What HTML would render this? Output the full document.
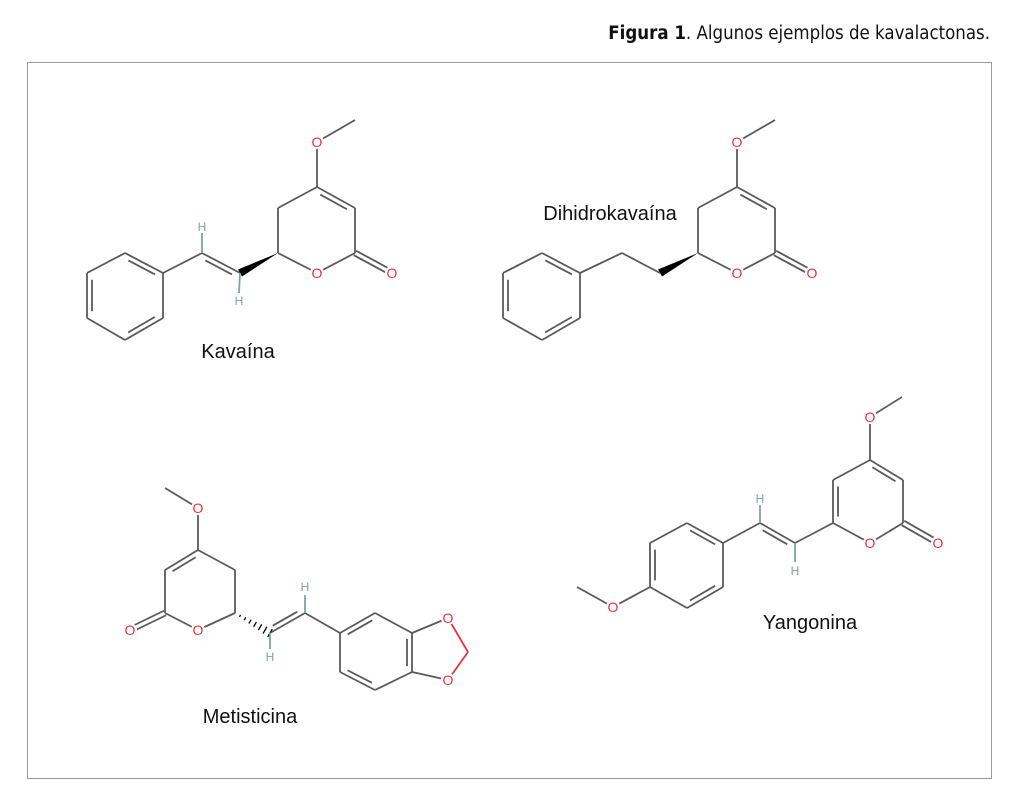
<!DOCTYPE html>
<html><head><meta charset="utf-8"><style>
body{margin:0;background:#fff;width:1024px;height:806px;overflow:hidden;position:relative;font-family:"Liberation Sans",sans-serif}
#t{position:absolute;right:34px;top:23px;font-size:18.5px;color:#111;font-family:"DejaVu Sans Condensed","Liberation Sans",sans-serif}
#box{position:absolute;left:27px;top:62px;width:963px;height:715px;border:1px solid #999}
svg{position:absolute;left:0;top:0}
</style></head><body>
<div id="t"><b>Figura 1</b>. Algunos ejemplos de kavalactonas.</div>
<div id="box"></div>
<svg id="s" width="1024" height="806" xmlns="http://www.w3.org/2000/svg"></svg>
<script>
var s=document.getElementById('s'),out='';
var G='#5a5a5a',R='#e8323c',HC='#7fa3a3';
function L(a,b,c){out+='<line x1="'+a[0]+'" y1="'+a[1]+'" x2="'+b[0]+'" y2="'+b[1]+'" stroke="'+(c||G)+'" stroke-width="1.8"/>';}
function inner(a,b,c,off){off=off||5;var dx=b[0]-a[0],dy=b[1]-a[1],l=Math.hypot(dx,dy),nx=-dy/l,ny=dx/l;
 var mx=(a[0]+b[0])/2,my=(a[1]+b[1])/2;if((c[0]-mx)*nx+(c[1]-my)*ny<0){nx=-nx;ny=-ny;}
 var sh=0.15;L([a[0]+dx*sh+nx*off,a[1]+dy*sh+ny*off],[b[0]-dx*sh+nx*off,b[1]-dy*sh+ny*off]);}
function par(a,b,side,off,c){var dx=b[0]-a[0],dy=b[1]-a[1],l=Math.hypot(dx,dy),nx=-dy/l*side*off,ny=dx/l*side*off;L([a[0]+nx,a[1]+ny],[b[0]+nx,b[1]+ny],c);}
function T(p,txt,c,fs){out+='<circle cx="'+p[0]+'" cy="'+p[1]+'" r="7" fill="#fff"/><text x="'+p[0]+'" y="'+(p[1]+5)+'" text-anchor="middle" font-size="'+(fs||14)+'" fill="'+c+'" font-family="Liberation Sans,sans-serif">'+txt+'</text>';}
function lab(x,y,t){out+='<text x="'+x+'" y="'+y+'" text-anchor="middle" font-size="20" fill="#111" font-family="Liberation Sans,sans-serif">'+t+'</text>';}
function ring(p,dbls){var c=[0,0];p.forEach(q=>{c[0]+=q[0]/6;c[1]+=q[1]/6});for(var i=0;i<6;i++){L(p[i],p[(i+1)%6]);if(dbls.indexOf(i)>=0)inner(p[i],p[(i+1)%6],c);}}
function lactone(dx){
 var Me=[355+dx,120],O=[317+dx,142],C4=[317+dx,187],C3=[355+dx,208],C2=[355+dx,253],Od=[392+dx,273],Or=[317+dx,273],C6=[278+dx,253],C5=[278+dx,208];
 L(Me,O);L(O,C4);L(C4,C3);inner(C4,C3,[317+dx,230]);L(C3,C2);L(C2,Or);L(Or,C6);L(C6,C5);L(C5,C4);
 par(C2,Od,1,2.5);par(C2,Od,-1,2.5);
 out+='<polygon points="'+C6[0]+','+C6[1]+' '+(240+dx-2)+','+(273-3.5)+' '+(240+dx+2)+','+(273+3.5)+'" fill="#000"/>';
 return {O:O,Od:Od,Or:Or};
}
var k=lactone(0);
var Ca=[240,273],Cb=[202,253];L(Ca,Cb);inner(Cb,Ca,[215,290],5);L(Cb,[163,273]);
L(Cb,[202,233],HC);L(Ca,[239,293],HC);
ring([[163,273],[125,253],[87,273],[87,318],[125,340],[163,318]],[0,2,4]);
T(k.O,'O',R);T(k.Od,'O',R);T(k.Or,'O',R);T([202,226],'H',HC,12);T([239,300],'H',HC,12);
lab(238,358,'Kavaína');
var d=lactone(420);
L([660,273],[622,253]);L([622,253],[580,273]);
ring([[580,273],[542,253],[503,273],[503,318],[542,340],[580,318]],[0,2,4]);
T(d.O,'O',R);T(d.Od,'O',R);T(d.Or,'O',R);
lab(610,220,'Dihidrokavaína');
var Me=[165,488],O=[198,508],C4=[198,550],C3=[165,570],C2=[165,613],Od=[130,630],Or=[198,630],C6=[235,613],C5=[235,570];
L(Me,O);L(O,C4);L(C4,C3);inner(C4,C3,[198,590]);L(C3,C2);L(C2,Or);L(Or,C6);L(C6,C5);L(C5,C4);
par(C2,Od,1,2.5);par(C2,Od,-1,2.5);
for(var i=1;i<=7;i++){var f=i/7,x=235+35*f,y=613+20*f,w=4*f+0.5;out+='<line x1="'+(x-w*0.5)+'" y1="'+(y+w*0.87)+'" x2="'+(x+w*0.5)+'" y2="'+(y-w*0.87)+'" stroke="#000" stroke-width="1.3"/>';}
var a=[270,633],b=[305,613];L(a,b);inner(a,b,[290,600],5);L(b,[340,633]);L(a,[270,650],HC);L(b,[305,595],HC);
ring([[340,633],[375,613],[412,633],[412,672],[375,690],[340,672]],[0,2,4]);
L([412,633],[448,618]);L([448,618],[468,652],R);L([468,652],[448,680],R);L([448,680],[412,672]);
T(O,'O',R);T(Od,'O',R);T(Or,'O',R);T([448,618],'O',R);T([448,680],'O',R);T([270,656],'H',HC,12);T([305,586],'H',HC,12);
lab(250,723,'Metisticina');
Me=[902,397];O=[870,417];C4=[870,460];C3=[903,480];C2=[903,523];Od=[938,543];Or=[870,543];C6=[833,523];C5=[833,480];
L(Me,O);L(O,C4);L(C4,C3);inner(C4,C3,[868,500]);L(C3,C2);L(C2,Or);L(Or,C6);L(C6,C5);inner(C6,C5,[868,500]);L(C5,C4);
par(C2,Od,1,2.5);par(C2,Od,-1,2.5);
a=[795,543];b=[760,523];L(C6,a);L(a,b);inner(b,a,[775,560],5);L(b,[723,543]);L(a,[795,562],HC);L(b,[760,505],HC);
ring([[723,543],[687,523],[650,543],[650,587],[687,608],[723,587]],[0,2,4]);
L([650,587],[613,607]);L([613,607],[577,587]);
T(O,'O',R);T(Od,'O',R);T(Or,'O',R);T([613,607],'O',R);T([795,570],'H',HC,12);T([760,498],'H',HC,12);
lab(810,629,'Yangonina');
s.innerHTML=out;
</script>
</body></html>
